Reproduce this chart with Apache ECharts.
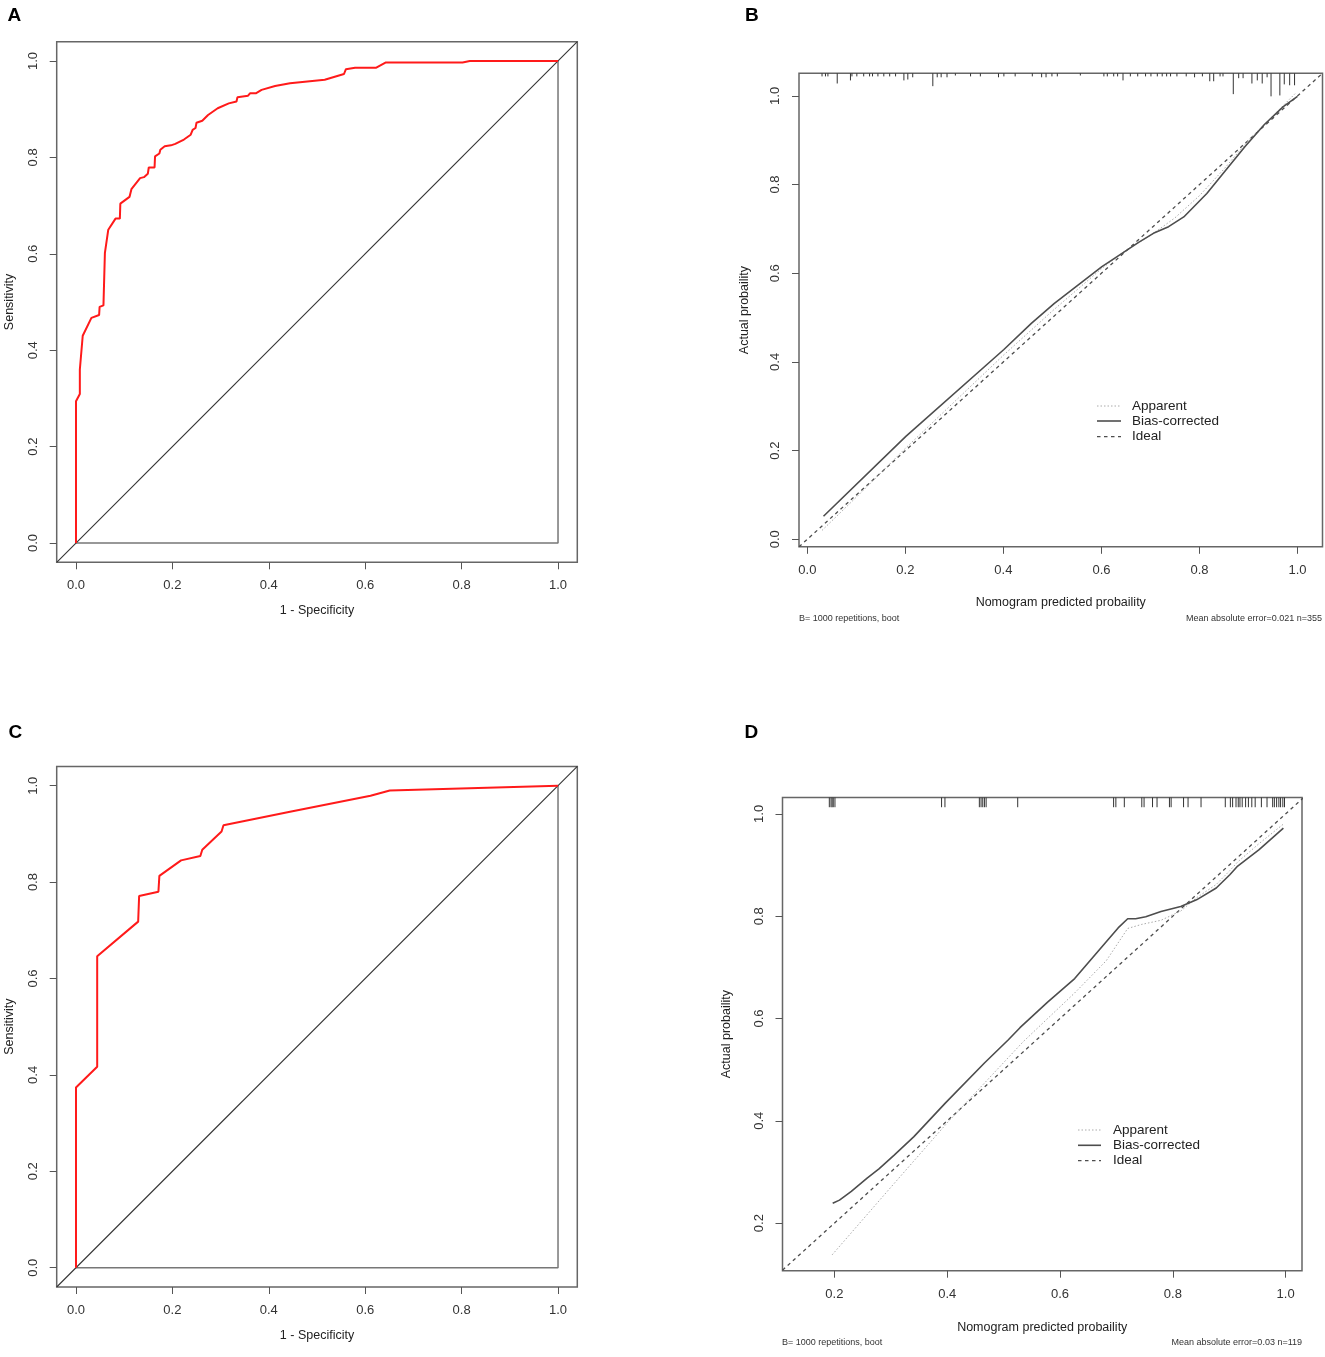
<!DOCTYPE html>
<html>
<head>
<meta charset="utf-8">
<script src="https://cdn.jsdelivr.net/npm/echarts@6/dist/echarts.min.js"></script>
<style>
html, body { margin: 0; padding: 0; background: #fff; }
#chart { width: 1325px; height: 1357px; }
</style>
</head>
<body>
<div id="chart"></div>
<script>
let FONT = '"Liberation Sans", Arial, sans-serif';

// ROC A (training)
let rocAFpr = [0, 0, 0.008, 0.008, 0.014, 0.032, 0.048, 0.049, 0.057, 0.06, 0.067, 0.082, 0.091, 0.092, 0.111, 0.115, 0.133, 0.141, 0.149, 0.151, 0.163, 0.164, 0.173, 0.175, 0.184, 0.197, 0.206, 0.224, 0.238, 0.242, 0.248, 0.25, 0.262, 0.274, 0.294, 0.317, 0.333, 0.335, 0.357, 0.361, 0.373, 0.385, 0.413, 0.444, 0.516, 0.556, 0.56, 0.579, 0.623, 0.643, 0.802, 0.817, 1];
let rocASens = [0, 0.294, 0.309, 0.36, 0.43, 0.467, 0.473, 0.49, 0.493, 0.602, 0.65, 0.673, 0.673, 0.704, 0.718, 0.734, 0.757, 0.759, 0.766, 0.779, 0.779, 0.802, 0.808, 0.816, 0.823, 0.825, 0.828, 0.837, 0.847, 0.857, 0.861, 0.872, 0.876, 0.888, 0.902, 0.912, 0.916, 0.925, 0.928, 0.933, 0.933, 0.94, 0.948, 0.954, 0.961, 0.973, 0.983, 0.986, 0.986, 0.997, 0.997, 1, 1];

// ROC C (validation)
let rocCFpr = [0, 0, 0.044, 0.044, 0.129, 0.131, 0.171, 0.173, 0.218, 0.258, 0.262, 0.302, 0.306, 0.444, 0.611, 0.651, 1];
let rocCSens = [0, 0.374, 0.417, 0.646, 0.718, 0.771, 0.78, 0.813, 0.845, 0.854, 0.867, 0.905, 0.918, 0.946, 0.979, 0.99, 1];

// calibration B
let calBBiasX = [0.033, 0.201, 0.401, 0.457, 0.504, 0.601, 0.652, 0.675, 0.706, 0.737, 0.768, 0.815, 0.854, 0.893, 0.932, 0.971, 1.0];
let calBBiasY = [0.052, 0.232, 0.428, 0.487, 0.532, 0.615, 0.652, 0.669, 0.69, 0.705, 0.727, 0.78, 0.833, 0.886, 0.935, 0.976, 0.999];
let calBAppX = [0.03, 0.1, 0.2, 0.3, 0.4, 0.5, 0.6, 0.65, 0.7, 0.75, 0.8, 0.85, 0.9, 0.95, 0.995];
let calBAppY = [0.02, 0.095, 0.205, 0.31, 0.415, 0.515, 0.61, 0.652, 0.685, 0.725, 0.775, 0.835, 0.9, 0.955, 1.005];
let rugBX = [0.030, 0.037, 0.042, 0.061, 0.088, 0.091, 0.101, 0.115, 0.127, 0.133, 0.144, 0.156, 0.168, 0.180, 0.197, 0.205, 0.215, 0.256, 0.265, 0.273, 0.285, 0.302, 0.333, 0.353, 0.390, 0.401, 0.424, 0.459, 0.478, 0.487, 0.499, 0.510, 0.557, 0.605, 0.612, 0.625, 0.633, 0.644, 0.659, 0.674, 0.690, 0.701, 0.714, 0.724, 0.733, 0.741, 0.754, 0.773, 0.790, 0.806, 0.821, 0.829, 0.842, 0.848, 0.869, 0.880, 0.889, 0.907, 0.918, 0.928, 0.938, 0.946, 0.964, 0.973, 0.984, 0.994];
let rugBLen = [0.007, 0.007, 0.007, 0.023, 0.016, 0.007, 0.007, 0.007, 0.007, 0.007, 0.007, 0.007, 0.007, 0.007, 0.016, 0.014, 0.009, 0.029, 0.009, 0.009, 0.009, 0.005, 0.007, 0.007, 0.009, 0.007, 0.007, 0.007, 0.009, 0.009, 0.007, 0.007, 0.005, 0.007, 0.007, 0.007, 0.007, 0.016, 0.007, 0.007, 0.007, 0.007, 0.007, 0.007, 0.007, 0.007, 0.007, 0.007, 0.009, 0.007, 0.018, 0.018, 0.007, 0.007, 0.047, 0.011, 0.011, 0.023, 0.016, 0.023, 0.009, 0.052, 0.05, 0.025, 0.027, 0.027];

// calibration D
let calDBiasX = [0.197, 0.209, 0.23, 0.258, 0.279, 0.306, 0.341, 0.397, 0.466, 0.508, 0.529, 0.578, 0.626, 0.682, 0.703, 0.72, 0.734, 0.752, 0.779, 0.814, 0.842, 0.877, 0.901, 0.915, 0.953, 0.996];
let calDBiasY = [0.239, 0.245, 0.262, 0.288, 0.306, 0.333, 0.369, 0.435, 0.513, 0.558, 0.582, 0.632, 0.678, 0.75, 0.777, 0.795, 0.795, 0.799, 0.809, 0.819, 0.832, 0.855, 0.881, 0.898, 0.93, 0.972];
let calDAppX = [0.196, 0.3, 0.4, 0.535, 0.626, 0.682, 0.72, 0.745, 0.779, 0.814, 0.842, 0.877, 0.901, 0.915, 0.953, 0.996];
let calDAppY = [0.138, 0.27, 0.396, 0.555, 0.65, 0.713, 0.776, 0.784, 0.792, 0.81, 0.836, 0.862, 0.889, 0.906, 0.942, 0.98];
let rugDX = [0.191, 0.194, 0.196, 0.198, 0.201, 0.390, 0.396, 0.457, 0.460, 0.463, 0.466, 0.469, 0.525, 0.695, 0.699, 0.714, 0.745, 0.749, 0.764, 0.772, 0.794, 0.797, 0.819, 0.827, 0.850, 0.893, 0.902, 0.906, 0.912, 0.916, 0.919, 0.923, 0.929, 0.934, 0.940, 0.946, 0.957, 0.967, 0.977, 0.980, 0.984, 0.988, 0.991, 0.995, 0.998];
let rugDLen = 0.019;

let ticks01 = [0, 0.2, 0.4, 0.6, 0.8, 1.0];
let ticksD = [0.2, 0.4, 0.6, 0.8, 1.0];
let legendNames = ['Apparent', 'Bias-corrected', 'Ideal'];

// axis ranges (R style 4% padding)
let rocRange = [-0.04, 1.04];
let calBRange = [-0.017, 1.051];
let calDXRange = [0.108, 1.029];
let calDYRange = [0.107, 1.032];

let styleApparent = { stroke: '#aaa', width: 1, dash: [1.5, 2] };
let styleBias = { stroke: '#4d4d4d', width: 1.6, dash: 'solid' };
let styleIdeal = { stroke: '#4d4d4d', width: 1.3, dash: [3.5, 3.5] };
let legendStyles = [styleApparent, styleBias, styleIdeal];

function zip(xs, ys) {
    return xs.map((x, i) => [x, ys[i]]);
}

function valueAxis(gridIndex, range, ticks, name, nameGap, isY) {
    return {
        type: 'value',
        gridIndex: gridIndex,
        min: range[0],
        max: range[1],
        name: name,
        nameLocation: 'middle',
        nameGap: nameGap,
        nameTextStyle: { fontSize: 12.5, color: '#222', fontFamily: FONT },
        axisLine: { show: false, onZero: false },
        axisTick: { show: true, inside: false, length: 7, customValues: ticks, lineStyle: { color: '#555', width: 1 } },
        axisLabel: {
            customValues: ticks,
            rotate: isY ? 90 : 0,
            margin: 17,
            fontSize: 13,
            color: '#333',
            fontFamily: FONT,
            formatter: v => v.toFixed(1)
        },
        splitLine: { show: false }
    };
}

function lineSeries(name, idx, data, st, z) {
    return {
        type: 'line',
        name: name,
        xAxisIndex: idx,
        yAxisIndex: idx,
        data: data,
        symbol: 'none',
        showSymbol: false,
        lineStyle: { color: st.stroke, width: st.width, type: st.dash },
        itemStyle: { color: st.stroke },
        silent: true,
        z: z
    };
}

function rugSeries(idx, data, yTop) {
    return {
        type: 'custom',
        xAxisIndex: idx,
        yAxisIndex: idx,
        silent: true,
        data: data,
        z: 5,
        renderItem: function (params, api) {
            let x = api.value(0);
            let len = api.value(1);
            let p1 = api.coord([x, yTop]);
            let p2 = api.coord([x, yTop - len]);
            return {
                type: 'line',
                shape: { x1: p1[0], y1: p1[1], x2: p2[0], y2: p2[1] },
                style: { stroke: '#333', lineWidth: 1 }
            };
        }
    };
}

// legend drawn as graphic: sample line + label per row
function legendGraphic(lineX1, lineX2, textX, rowYs) {
    let out = [];
    legendNames.forEach((nm, i) => {
        let st = legendStyles[i];
        out.push({
            type: 'line',
            shape: { x1: lineX1, y1: rowYs[i], x2: lineX2, y2: rowYs[i] },
            style: { stroke: st.stroke, lineWidth: st.width, lineDash: st.dash === 'solid' ? null : st.dash }
        });
        out.push({
            type: 'text', x: textX, y: rowYs[i],
            style: { text: nm, font: '13.5px ' + FONT, fill: '#222', verticalAlign: 'middle' }
        });
    });
    return out;
}

let roc = { stroke: '#ff1a1a', width: 2, dash: 'solid' };
let frameLine = { stroke: '#777', width: 1.5, dash: 'solid' };
let diagLine = { stroke: '#333', width: 1.1, dash: 'solid' };

let gridBase = { show: true, borderColor: '#666', borderWidth: 1.5, backgroundColor: 'transparent' };

let chart = echarts.init(document.getElementById('chart'), null, { renderer: 'canvas' });

let options = {
    animation: false,
    backgroundColor: '#fff',
    textStyle: { fontFamily: FONT },
    grid: [
        Object.assign({ left: 56.7, top: 41.7, width: 520.6, height: 520.6 }, gridBase),
        Object.assign({ left: 799, top: 73.3, width: 523.5, height: 473.5 }, gridBase),
        Object.assign({ left: 56.7, top: 766.4, width: 520.6, height: 520.6 }, gridBase),
        Object.assign({ left: 782.5, top: 797.5, width: 519.5, height: 473.2 }, gridBase)
    ],
    xAxis: [
        valueAxis(0, rocRange, ticks01, '1 - Specificity', 42, false),
        valueAxis(1, calBRange, ticks01, 'Nomogram predicted probaility', 49.5, false),
        valueAxis(2, rocRange, ticks01, '1 - Specificity', 42, false),
        valueAxis(3, calDXRange, ticksD, 'Nomogram predicted probaility', 50, false)
    ],
    yAxis: [
        valueAxis(0, rocRange, ticks01, 'Sensitivity', 41, true),
        valueAxis(1, calBRange, ticks01, 'Actual probaility', 48, true),
        valueAxis(2, rocRange, ticks01, 'Sensitivity', 41, true),
        valueAxis(3, calDYRange, ticksD, 'Actual probaility', 49, true)
    ],
    graphic: [
        { type: 'text', left: 7.5, top: 6.5, style: { text: 'A', font: 'bold 19px ' + FONT, fill: '#000' } },
        { type: 'text', left: 745, top: 6.5, style: { text: 'B', font: 'bold 19px ' + FONT, fill: '#000' } },
        { type: 'text', left: 8.5, top: 723.5, style: { text: 'C', font: 'bold 19px ' + FONT, fill: '#000' } },
        { type: 'text', left: 744.5, top: 723.5, style: { text: 'D', font: 'bold 19px ' + FONT, fill: '#000' } },
        { type: 'text', left: 799, top: 614.5, style: { text: 'B= 1000 repetitions, boot', font: '9px ' + FONT, fill: '#333' } },
        { type: 'text', right: 3, top: 614.5, style: { text: 'Mean absolute error=0.021 n=355', font: '9px ' + FONT, fill: '#333' } },
        { type: 'text', left: 782, top: 1338.5, style: { text: 'B= 1000 repetitions, boot', font: '9px ' + FONT, fill: '#333' } },
        { type: 'text', right: 23, top: 1338.5, style: { text: 'Mean absolute error=0.03 n=119', font: '9px ' + FONT, fill: '#333' } }
    ].concat(
        legendGraphic(1097, 1121, 1132, [406, 421, 436.7]),
        legendGraphic(1078, 1101, 1113, [1130, 1145.3, 1160.7])
    ),
    series: [
        // A
        lineSeries('boxA', 0, [[0, 0], [1, 0], [1, 1]], frameLine, 2),
        lineSeries('diagA', 0, [[rocRange[0], rocRange[0]], [rocRange[1], rocRange[1]]], diagLine, 3),
        lineSeries('rocA', 0, zip(rocAFpr, rocASens), roc, 4),
        // B
        lineSeries('Ideal', 1, [[calBRange[0], calBRange[0]], [calBRange[1], calBRange[1]]], styleIdeal, 2),
        lineSeries('Apparent', 1, zip(calBAppX, calBAppY), styleApparent, 3),
        lineSeries('Bias-corrected', 1, zip(calBBiasX, calBBiasY), styleBias, 4),
        rugSeries(1, zip(rugBX, rugBLen), calBRange[1]),
        // C
        lineSeries('boxC', 2, [[0, 0], [1, 0], [1, 1]], frameLine, 2),
        lineSeries('diagC', 2, [[rocRange[0], rocRange[0]], [rocRange[1], rocRange[1]]], diagLine, 3),
        lineSeries('rocC', 2, zip(rocCFpr, rocCSens), roc, 4),
        // D
        lineSeries('Ideal', 3, [[calDXRange[0], calDXRange[0]], [calDYRange[1], calDYRange[1]]], styleIdeal, 2),
        lineSeries('Apparent', 3, zip(calDAppX, calDAppY), styleApparent, 3),
        lineSeries('Bias-corrected', 3, zip(calDBiasX, calDBiasY), styleBias, 4),
        rugSeries(3, rugDX.map(x => [x, rugDLen]), calDYRange[1])
    ]
};

chart.setOption(options);
</script>
</body>
</html>
